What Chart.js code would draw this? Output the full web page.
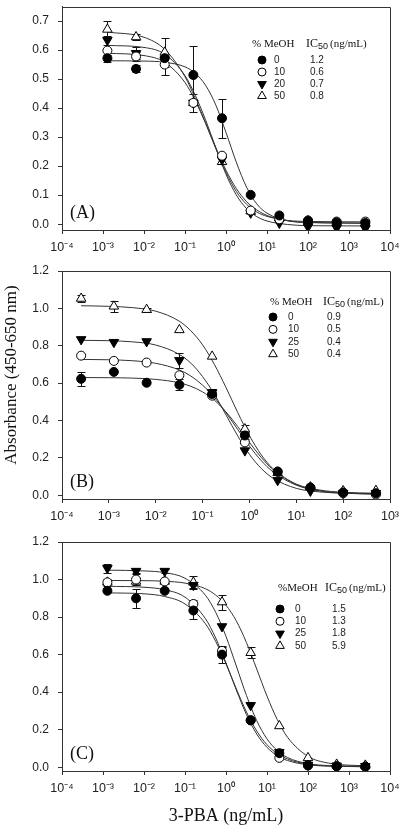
<!DOCTYPE html>
<html>
<head>
<meta charset="utf-8">
<script src="https://cdn.jsdelivr.net/npm/chart.js@4.4.1/dist/chart.umd.min.js"></script>
<style>
  html, body { margin: 0; padding: 0; background: #fff; }
  #wrap { position: relative; width: 400px; height: 827px; }
  canvas { position: absolute; left: 0; }
</style>
</head>
<body>
<div id="wrap">
  <canvas id="chartA" width="400" height="258" style="top:0px"></canvas>
  <canvas id="chartB" width="400" height="268" style="top:258px"></canvas>
  <canvas id="chartC" width="400" height="301" style="top:526px"></canvas>
</div>
<script>
// 3-PBA concentrations (ng/mL)
const concA = [0.00128, 0.0064, 0.032, 0.16, 0.8, 4, 20, 100, 500, 2500];
const concB = [0.000256, 0.00128, 0.0064, 0.032, 0.16, 0.8, 4, 20, 100, 500];
const concC = [0.00128, 0.0064, 0.032, 0.16, 0.8, 4, 20, 100, 500, 2500];

// panel A: absorbance per % MeOH (0, 10, 20, 50)
const absA0 = [0.572, 0.535, 0.572, 0.514, 0.365, 0.101, 0.030, 0.011, 0.006, 0.004];
const absA10 = [0.598, 0.578, 0.550, 0.418, 0.236, 0.047, 0.017, 0.013, 0.009, 0.009];
const absA20 = [0.634, 0.589, 0.567, 0.418, 0.222, 0.039, 0.004, -0.009, -0.013, -0.015];
const absA50 = [0.671, 0.645, 0.592, 0.418, 0.215, 0.045, 0.022, 0.011, 0.006, 0.003];
const errA0 = [0.012, 0.012, 0, 0.1, 0.068, 0, 0, 0, 0, 0];
const errA10 = [0, 0.015, 0.035, 0, 0, 0, 0, 0, 0, 0];
const errA20 = [0.015, 0.02, 0.02, 0.03, 0, 0, 0, 0, 0, 0];
const errA50 = [0.03, 0.01, 0.05, 0, 0, 0.01, 0, 0, 0, 0];

// panel B: % MeOH 0, 10, 25, 50
const absB0 = [0.623, 0.660, 0.602, 0.591, 0.542, 0.320, 0.126, 0.041, 0.015, 0.011];
const absB10 = [0.747, 0.719, 0.710, 0.642, 0.533, 0.283, 0.127, 0.041, 0.011, 0.004];
const absB25 = [0.834, 0.819, 0.823, 0.722, 0.550, 0.239, 0.080, 0.023, 0.011, 0.011];
const absB50 = [1.053, 1.011, 0.993, 0.885, 0.743, 0.354, 0.120, 0.044, 0.023, 0.025];
const errB0 = [0.037, 0, 0, 0.03, 0, 0.02, 0, 0, 0, 0];
const errB10 = [0, 0, 0, 0, 0.015, 0, 0, 0, 0, 0];
const errB25 = [0, 0, 0, 0.04, 0.02, 0, 0, 0, 0, 0];
const errB50 = [0.02, 0.03, 0.01, 0, 0, 0.02, 0, 0, 0, 0];

// panel C: % MeOH 0, 10, 25, 50
const absC0 = [0.94, 0.90, 0.94, 0.835, 0.60, 0.25, 0.075, 0.01, 0.005, 0.003];
const absC10 = [0.985, 1.0, 0.99, 0.87, 0.62, 0.25, 0.05, 0.01, 0.005, 0.003];
const absC25 = [1.06, 1.045, 1.045, 0.97, 0.75, 0.33, 0.08, 0.012, 0.008, 0.005];
const absC50 = [0.985, 0.99, 0.99, 0.985, 0.88, 0.61, 0.22, 0.05, 0.015, 0.01];
const errC0 = [0, 0.05, 0, 0.045, 0.045, 0, 0, 0, 0, 0];
const errC10 = [0.01, 0.03, 0, 0.02, 0.02, 0, 0, 0, 0, 0];
const errC25 = [0.025, 0.01, 0.01, 0.015, 0, 0, 0, 0, 0, 0];
const errC50 = [0.02, 0.02, 0, 0.035, 0.04, 0.03, 0, 0, 0, 0];

// fitted curves
const fitXA = [0.00128, 0.01, 0.0316, 0.1, 0.178, 0.316, 0.562, 1, 1.78, 3.16, 5.62, 10, 31.6, 100, 2500];
const fitA0 = [0.563, 0.562, 0.558, 0.542, 0.520, 0.479, 0.411, 0.316, 0.214, 0.128, 0.070, 0.038, 0.012, 0.006, 0.004];
const fitA10 = [0.589, 0.581, 0.558, 0.488, 0.425, 0.348, 0.261, 0.179, 0.113, 0.069, 0.042, 0.027, 0.013, 0.0095, 0.008];
const fitA20 = [0.616, 0.609, 0.586, 0.512, 0.444, 0.360, 0.264, 0.172, 0.101, 0.054, 0.026, 0.011, -0.001, -0.005, -0.006];
const fitA50 = [0.662, 0.644, 0.603, 0.508, 0.433, 0.350, 0.264, 0.186, 0.123, 0.078, 0.049, 0.030, 0.012, 0.006, 0.003];

const fitXB = [0.000256, 0.001, 0.00316, 0.01, 0.0316, 0.0562, 0.1, 0.178, 0.316, 0.562, 1, 1.78, 3.16, 10, 31.6, 100, 500];
const fitB0 = [0.630, 0.629, 0.627, 0.620, 0.602, 0.583, 0.553, 0.509, 0.446, 0.368, 0.283, 0.203, 0.138, 0.057, 0.023, 0.011, 0.006];
const fitB10 = [0.727, 0.725, 0.720, 0.706, 0.671, 0.638, 0.589, 0.524, 0.442, 0.352, 0.263, 0.186, 0.126, 0.054, 0.024, 0.012, 0.007];
const fitB25 = [0.829, 0.827, 0.821, 0.804, 0.754, 0.707, 0.635, 0.541, 0.430, 0.318, 0.219, 0.144, 0.092, 0.037, 0.018, 0.011, 0.009];
const fitB50 = [1.014, 1.011, 1.004, 0.985, 0.932, 0.880, 0.805, 0.701, 0.577, 0.443, 0.319, 0.217, 0.143, 0.060, 0.028, 0.016, 0.011];

const fitXC = [0.00128, 0.01, 0.0316, 0.1, 0.316, 0.562, 1, 1.78, 3.16, 5.62, 10, 17.8, 31.6, 100, 316, 2500];
const fitC0 = [0.929, 0.924, 0.910, 0.870, 0.764, 0.670, 0.551, 0.418, 0.294, 0.193, 0.120, 0.073, 0.044, 0.016, 0.007, 0.003];
const fitC10 = [0.964, 0.959, 0.946, 0.906, 0.791, 0.688, 0.556, 0.412, 0.280, 0.177, 0.106, 0.062, 0.036, 0.013, 0.006, 0.003];
const fitC25 = [1.050, 1.046, 1.037, 1.007, 0.916, 0.825, 0.697, 0.540, 0.382, 0.248, 0.151, 0.089, 0.052, 0.019, 0.009, 0.005];
const fitC50 = [0.995, 0.994, 0.991, 0.981, 0.951, 0.917, 0.863, 0.780, 0.664, 0.523, 0.379, 0.254, 0.160, 0.058, 0.022, 0.007];

// legend texts
const meohA = ["0", "10", "20", "50"];
const ic50A = ["1.2", "0.6", "0.7", "0.8"];
const meohB = ["0", "10", "25", "50"];
const ic50B = ["0.9", "0.5", "0.4", "0.4"];
const meohC = ["0", "10", "25", "50"];
const ic50C = ["1.5", "1.3", "1.8", "5.9"];

// tick values
const xTicksA = [1e-4, 1e-3, 1e-2, 1e-1, 1, 10, 100, 1000, 10000];
const xTicksB = [1e-4, 1e-3, 1e-2, 1e-1, 1, 10, 100, 1000];
const yTicksA = [0, 0.1, 0.2, 0.3, 0.4, 0.5, 0.6, 0.7];
const yTicksBC = [0, 0.2, 0.4, 0.6, 0.8, 1.0, 1.2];

const SANS = '"Liberation Sans", Arial, sans-serif';
const SERIF = '"Liberation Serif", "Times New Roman", serif';

const markers = [
  { style: "circle", rot: 0, r: 4.5, fill: "#000" },
  { style: "circle", rot: 0, r: 4.5, fill: "#fff" },
  { style: "triangle", rot: 180, r: 5.5, fill: "#000" },
  { style: "triangle", rot: 0, r: 5.5, fill: "#fff" },
];

const SUP = { "-": "\u207B", "0": "\u2070", "1": "\u00B9", "2": "\u00B2", "3": "\u00B3", "4": "\u2074" };
const powLabel = (v) => "10" + String(Math.round(Math.log10(v))).split("").map((c) => SUP[c]).join("");

const errorBars = {
  id: "errorBars",
  beforeDatasetsDraw(chart) {
    const { ctx, scales: { x, y } } = chart;
    ctx.save();
    ctx.strokeStyle = "#111";
    ctx.lineWidth = 1;
    chart.data.datasets.forEach((ds) => {
      if (!ds.errors) return;
      ds.data.forEach((p, i) => {
        const e = ds.errors[i];
        if (!e) return;
        const px = Math.round(x.getPixelForValue(p.x)) + 0.5;
        const t = Math.round(y.getPixelForValue(p.y + e)) + 0.5;
        const b = Math.round(y.getPixelForValue(p.y - e)) + 0.5;
        ctx.beginPath();
        ctx.moveTo(px, t); ctx.lineTo(px, b);
        ctx.moveTo(px - 4, t); ctx.lineTo(px + 4, t);
        ctx.moveTo(px - 4, b); ctx.lineTo(px + 4, b);
        ctx.stroke();
      });
    });
    ctx.restore();
  },
};

const panelDecor = {
  id: "panelDecor",
  afterDraw(chart, args, opts) {
    const { ctx, chartArea: { left, top, right, bottom } } = chart;
    ctx.save();
    // top and right frame
    ctx.strokeStyle = "#333";
    ctx.lineWidth = 1;
    ctx.beginPath();
    ctx.moveTo(left, Math.round(top) + 0.5);
    ctx.lineTo(Math.round(right) + 0.5, Math.round(top) + 0.5);
    ctx.lineTo(Math.round(right) + 0.5, bottom);
    ctx.stroke();

    ctx.fillStyle = "#111";
    ctx.textBaseline = "middle";
    ctx.textAlign = "left";
    ctx.font = "18px " + SERIF;
    ctx.fillText(opts.letter, left + 8, bottom - 17);

    // legend table
    const lg = opts.legend;
    ctx.font = "11px " + SERIF;
    ctx.fillText(lg.title, lg.x1, lg.hy);
    let hx = lg.x2;
    ctx.font = "12px " + SERIF;
    ctx.fillText("IC", hx, lg.hy);
    hx += ctx.measureText("IC").width;
    ctx.font = "9px " + SANS;
    ctx.fillText("50", hx, lg.hy + 3);
    hx += ctx.measureText("50").width + 2;
    ctx.font = "11px " + SERIF;
    ctx.fillText("(ng/mL)", hx, lg.hy);

    ctx.font = "10px " + SANS;
    lg.meoh.forEach((m, i) => {
      const ry = lg.ry + i * lg.dy;
      const st = markers[i];
      ctx.fillStyle = st.fill;
      ctx.strokeStyle = "#000";
      ctx.lineWidth = 1;
      Chart.helpers.drawPoint(ctx, { pointStyle: st.style, rotation: st.rot, radius: st.r - 0.5, borderWidth: 1 }, lg.mx, ry);
      ctx.fillStyle = "#222";
      ctx.fillText(m, lg.lx, ry);
      ctx.fillText(lg.ic[i], lg.ix, ry);
    });

    if (opts.yTitle) {
      ctx.save();
      ctx.translate(opts.yTitle.x, opts.yTitle.y);
      ctx.rotate(-Math.PI / 2);
      ctx.textAlign = "center";
      ctx.fillStyle = "#111";
      ctx.font = "17px " + SERIF;
      ctx.fillText(opts.yTitle.text, 0, 0);
      ctx.restore();
    }
    ctx.restore();
  },
};

function makePanel(id, p) {
  const datasets = [];
  p.abs.forEach((ys, i) => {
    const st = markers[i];
    datasets.push({
      data: p.conc.map((x, j) => ({ x, y: ys[j] })),
      errors: p.err[i],
      showLine: false,
      pointStyle: st.style,
      rotation: st.rot,
      pointRadius: st.r,
      pointHoverRadius: st.r,
      backgroundColor: st.fill,
      borderColor: "#000",
      borderWidth: 1,
      order: 0,
    });
  });
  p.fits.forEach((ys) => {
    datasets.push({
      data: p.fitX.map((x, j) => ({ x, y: ys[j] })),
      showLine: true,
      pointRadius: 0,
      borderColor: "#333",
      borderWidth: 1,
      cubicInterpolationMode: "monotone",
      fill: false,
      order: 1,
    });
  });

  new Chart(document.getElementById(id), {
    type: "scatter",
    data: { datasets },
    options: {
      responsive: false,
      animation: false,
      devicePixelRatio: 1,
      events: [],
      layout: { padding: { top: p.top, right: 10, left: 0, bottom: 0 } },
      scales: {
        x: {
          type: "logarithmic",
          min: p.xTicks[0],
          max: p.xTicks[p.xTicks.length - 1],
          afterBuildTicks: (s) => { s.ticks = p.xTicks.map((v) => ({ value: v })); },
          afterFit: (s) => { s.height = p.xh; s.paddingLeft = 0; s.paddingRight = 0; },
          ticks: {
            callback: (v) => powLabel(v),
            autoSkip: false,
            maxRotation: 0,
            padding: 6,
            color: "#222",
            font: { family: SANS, size: 12.5 },
          },
          grid: { display: true, drawOnChartArea: false, tickLength: 4, color: "#333" },
          border: { display: true, color: "#333", width: 1 },
          title: {
            display: !!p.xTitle,
            text: p.xTitle || "",
            color: "#111",
            font: { family: SERIF, size: 18 },
            padding: { top: 0, bottom: 0 },
          },
        },
        y: {
          min: -0.02,
          max: p.yMax,
          afterBuildTicks: (s) => { s.ticks = p.yTicks.map((v) => ({ value: v })); },
          afterFit: (s) => { s.width = 62; s.paddingTop = 0; s.paddingBottom = 0; },
          ticks: {
            callback: (v) => Number(v).toFixed(1),
            padding: 9,
            color: "#222",
            font: { family: SANS, size: 12 },
          },
          grid: { display: true, drawOnChartArea: false, tickLength: 4, color: "#333" },
          border: { display: true, color: "#333", width: 1 },
        },
      },
      plugins: {
        legend: { display: false },
        tooltip: { enabled: false },
        panelDecor: { letter: p.letter, legend: p.legend, yTitle: p.yTitle },
      },
    },
    plugins: [errorBars, panelDecor],
  });
}

makePanel("chartA", {
  conc: concA,
  abs: [absA0, absA10, absA20, absA50],
  err: [errA0, errA10, errA20, errA50],
  fitX: fitXA,
  fits: [fitA0, fitA10, fitA20, fitA50],
  xTicks: xTicksA,
  yTicks: yTicksA,
  yMax: 0.75,
  top: 1,
  xh: 28,
  letter: "(A)",
  legend: { title: "% MeOH", x1: 252, x2: 306, hy: 44, mx: 262, lx: 274, ix: 310, ry: 60, dy: 12, meoh: meohA, ic: ic50A },
});

makePanel("chartB", {
  conc: concB,
  abs: [absB0, absB10, absB25, absB50],
  err: [errB0, errB10, errB25, errB50],
  fitX: fitXB,
  fits: [fitB0, fitB10, fitB25, fitB50],
  xTicks: xTicksB,
  yTicks: yTicksBC,
  yMax: 1.2,
  top: 13,
  xh: 27,
  letter: "(B)",
  legend: { title: "% MeOH", x1: 270, x2: 323, hy: 44, mx: 273, lx: 288, ix: 327, ry: 59, dy: 12.4, meoh: meohB, ic: ic50B },
  yTitle: { text: "Absorbance (450-650 nm)", x: 12, y: 117 },
});

makePanel("chartC", {
  conc: concC,
  abs: [absC0, absC10, absC25, absC50],
  err: [errC0, errC10, errC25, errC50],
  fitX: fitXC,
  fits: [fitC0, fitC10, fitC25, fitC50],
  xTicks: xTicksA,
  yTicks: yTicksBC,
  yMax: 1.2,
  top: 16,
  xh: 56,
  letter: "(C)",
  xTitle: "3-PBA (ng/mL)",
  legend: { title: "%MeOH", x1: 278, x2: 325, hy: 62, mx: 280, lx: 295, ix: 332, ry: 83, dy: 12.3, meoh: meohC, ic: ic50C },
});
</script>
</body>
</html>
